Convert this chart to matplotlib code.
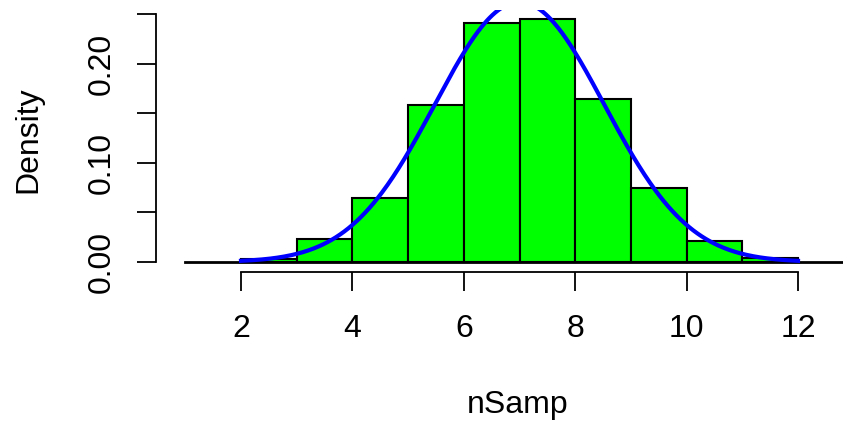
import numpy as np
import matplotlib.pyplot as plt

plt.rcParams['font.family'] = ['Liberation Sans', 'DejaVu Sans']

# histogram of nSamp (density scale), bins of width 1
breaks = [2, 3, 4, 5, 6, 7, 8, 9, 10, 11, 12]
density = [0.003, 0.023, 0.065, 0.159, 0.241, 0.245, 0.165, 0.075, 0.0215, 0.004]
# fitted normal curve
mu = 7.0
sd = 1.52
# zero line
zero_x = [1, 13]

xticks = [2, 4, 6, 8, 10, 12]
yticks = [0.0, 0.05, 0.10, 0.15, 0.20, 0.25]
ylabels = ['0.00', '', '0.10', '', '0.20', '']

W, H = 843, 423
fig = plt.figure(figsize=(W / 100, H / 100), dpi=100)
# plot region in pixels (R style)
x0, x1 = 0.48, 13.52
pxu = 55.7
left_px = 241 - (2 - x0) * pxu
ymin, ymax = -0.0098, 0.2548
top_px, bot_px = 9.7, 271.7
ax = fig.add_axes([left_px / W, 1 - bot_px / H, (x1 - x0) * pxu / W, (bot_px - top_px) / H])
ax.set_xlim(x0, x1)
ax.set_ylim(ymin, ymax)

lefts = breaks[:-1]
widths = np.diff(breaks)
ax.bar(lefts, density, width=widths, align='edge', color='#00ff00',
       edgecolor='black', linewidth=1.5, zorder=2)
ax.plot(zero_x, [0, 0], color='black', lw=2, zorder=1)

xs = np.linspace(breaks[0], breaks[-1], 400)
ys = np.exp(-(xs - mu) ** 2 / (2 * sd ** 2)) / (sd * np.sqrt(2 * np.pi))
ax.plot(xs, ys, color='#0000ff', lw=3, zorder=3)

for s in ['top', 'right']:
    ax.spines[s].set_visible(False)
ax.spines['left'].set_bounds(0, 0.25)
ax.spines['bottom'].set_bounds(2, 12)
for s in ['left', 'bottom']:
    ax.spines[s].set_linewidth(1.3)

ax.set_xticks(xticks)
ax.set_xticklabels([str(t) for t in xticks])
ax.set_yticks(yticks)
ax.set_yticklabels(ylabels, rotation=90, va='center')
ax.tick_params(axis='both', length=13.5, width=1.3, labelsize=23)
ax.tick_params(axis='x', pad=17)
ax.tick_params(axis='y', pad=15)

fig.text(28 / W, 1 - 140 / H, 'Density', rotation=90, ha='center', va='center', fontsize=23)
fig.text(518 / W, 1 - 405 / H, 'nSamp', ha='center', va='center', fontsize=23)

fig.savefig('out.png', dpi=100)
